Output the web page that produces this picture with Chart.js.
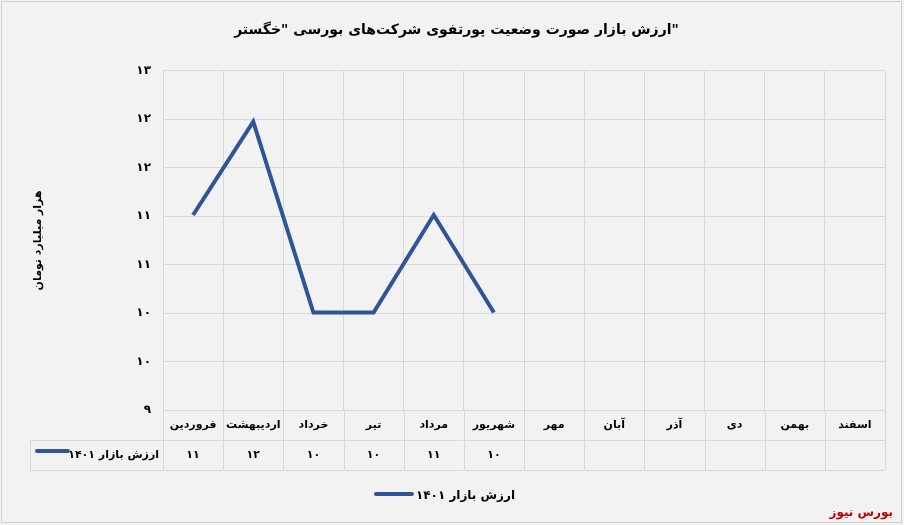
<!DOCTYPE html>
<html><head><meta charset="utf-8">
<script src="https://cdn.jsdelivr.net/npm/chart.js@4"></script>
<style>html,body{margin:0;padding:0;background:#fff}#w{position:relative;width:904px;height:525px}</style>
</head><body><div id="w"><canvas id="c" width="904" height="525"></canvas></div>
<script>
const months=['فروردین','اردیبهشت','خرداد','تیر','مرداد','شهریور','مهر','آبان','آذر','دی','بهمن','اسفند'];
const values=[11.3,12.4,10.15,10.15,11.3,10.15,null,null,null,null,null,null];
const tableLabels=['۱۱','۱۲','۱۰','۱۰','۱۱','۱۰','','','','','',''];
const seriesName='ارزش بازار ۱۴۰۱';
const tickValues=[9,9.571,10.143,10.714,11.286,11.857,12.429,13];
const fa=n=>String(n).replace(/\d/g,d=>'۰۱۲۳۴۵۶۷۸۹'[d]);
const F='"DejaVu Sans", sans-serif';
const tablePlugin={id:'tbl',
beforeDraw(ch){const c=ch.ctx;c.save();c.fillStyle='#f2f2f2';c.fillRect(0,0,904,525);
c.strokeStyle='#d0d0d0';c.lineWidth=1;c.strokeRect(1.5,1.5,900,521);c.restore();},
afterDraw(ch){const c=ch.ctx,x=ch.scales.x,a=ch.chartArea;c.save();
const y0=a.bottom,y1=y0+30,y2=y1+30,L=30;
c.strokeStyle='#d9d9d9';c.lineWidth=1;
[y0,y1,y2].forEach(y=>{c.beginPath();c.moveTo(y==y0?a.left:L,y+.5);c.lineTo(a.right,y+.5);c.stroke();});
const w=(a.right-a.left)/months.length;
for(let i=0;i<=months.length;i++){const xx=Math.round(a.left+i*w)+.5;c.beginPath();c.moveTo(xx,y0);c.lineTo(xx,y2);c.stroke();}
c.beginPath();c.moveTo(L+.5,y1);c.lineTo(L+.5,y2);c.stroke();
c.fillStyle='#000';c.font='bold 11px '+F;c.textAlign='center';c.textBaseline='middle';
months.forEach((m,i)=>{const cx=x.getPixelForValue(i);c.fillText(m,cx,y0+15);
c.fillText(tableLabels[i],cx,y1+15);});
c.textAlign='right';c.fillText(seriesName,a.left-4,y1+15);
c.strokeStyle='#2f5597';c.lineWidth=4;c.lineCap='round';c.beginPath();c.moveTo(37,y1+11);c.lineTo(68,y1+11);c.stroke();
// legend
c.textAlign='right';c.font='bold 12px '+F;c.fillText(seriesName,515,496);
const tw=c.measureText(seriesName).width;
c.beginPath();c.moveTo(515-tw-40,494);c.lineTo(515-tw-4,494);c.stroke();
c.fillStyle='#c00000';c.font='bold 12px '+F;c.fillText('بورس نیوز',893,513);
c.restore();}};
new Chart(document.getElementById('c'),{type:'line',
data:{labels:months,datasets:[{label:seriesName,data:values,borderColor:'#2f5597',borderWidth:4,pointRadius:0,tension:0,spanGaps:false}]},
options:{responsive:false,animation:false,
layout:{padding:{left:28,right:19,top:0,bottom:115}},
plugins:{title:{display:true,text:'ارزش بازار صورت وضعیت پورتفوی شرکت‌های بورسی "خگستر"',font:{family:F,size:14,weight:'bold'},color:'#000',padding:{top:22,bottom:32}},
legend:{display:false},tooltip:{enabled:false}},
scales:{x:{offset:true,ticks:{display:false},grid:{color:'#d9d9d9',offset:true,drawTicks:false},border:{display:false}},
y:{min:9,max:13,afterBuildTicks:s=>{s.ticks=tickValues.map(v=>({value:v}));},
afterFit:s=>{s.width=135;},
ticks:{callback:v=>fa(Math.round(v)),font:{family:F,size:12,weight:'bold'},color:'#000',padding:12},
grid:{color:'#d9d9d9',drawTicks:false},border:{display:false},
title:{display:true,text:'هزار میلیارد تومان',font:{family:F,size:11,weight:'bold'},color:'#000'}}}},
plugins:[tablePlugin]});
</script></body></html>
